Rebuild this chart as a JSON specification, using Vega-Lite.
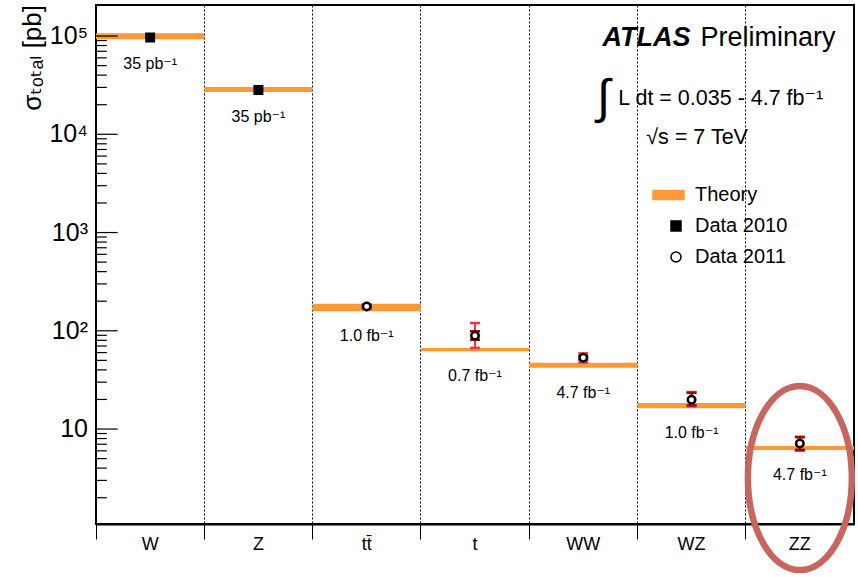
{
  "$schema": "https://vega.github.io/schema/vega-lite/v6.json",
  "width": 758,
  "height": 519,
  "autosize": {"type": "none"},
  "padding": {"left": 96, "top": 5, "right": 4, "bottom": 53},
  "background": "white",
  "config": {
    "view": {"stroke": "black", "strokeWidth": 2},
    "font": "Liberation Sans, DejaVu Sans, sans-serif",
    "legend": {
      "orient": "none",
      "legendX": 570,
      "legendY": 180,
      "title": null,
      "labelFontSize": 20,
      "labelColor": "black",
      "labelFont": "Liberation Sans, DejaVu Sans, sans-serif",
      "symbolSize": 100,
      "symbolStrokeWidth": 1.5,
      "symbolOpacity": 1,
      "rowPadding": 11,
      "labelOffset": 9,
      "padding": 0
    }
  },
  "datasets": {
    "minorticks": [
      {"v": 2}, {"v": 3}, {"v": 4}, {"v": 5}, {"v": 6}, {"v": 7}, {"v": 8}, {"v": 9},
      {"v": 20}, {"v": 30}, {"v": 40}, {"v": 50}, {"v": 60}, {"v": 70}, {"v": 80}, {"v": 90},
      {"v": 200}, {"v": 300}, {"v": 400}, {"v": 500}, {"v": 600}, {"v": 700}, {"v": 800}, {"v": 900},
      {"v": 2000}, {"v": 3000}, {"v": 4000}, {"v": 5000}, {"v": 6000}, {"v": 7000}, {"v": 8000}, {"v": 9000},
      {"v": 20000}, {"v": 30000}, {"v": 40000}, {"v": 50000}, {"v": 60000}, {"v": 70000}, {"v": 80000}, {"v": 90000}
    ],
    "majorticks": [
      {"m": 10}, {"m": 100}, {"m": 1000}, {"m": 10000}, {"m": 100000}
    ],
    "ylabels": [
      {"p": 10, "label": "10"}, {"p": 100, "label": "10²"}, {"p": 1000, "label": "10³"}, {"p": 10000, "label": "10⁴"}, {"p": 100000, "label": "10⁵"}
    ]
  },
  "data": {
    "values": [
      {"proc": "W", "theory_lo": 93000, "theory_hi": 107000, "value": 96500, "series": "Data 2010", "lumi": "35 pb⁻¹"},
      {"proc": "Z", "theory_lo": 26900, "theory_hi": 30300, "value": 28300, "series": "Data 2010", "lumi": "35 pb⁻¹"},
      {"proc": "tt̄", "theory_lo": 158, "theory_hi": 188, "value": 177, "series": "Data 2011", "stat_lo": 172, "stat_hi": 181, "tot_lo": 168, "tot_hi": 186, "lumi": "1.0 fb⁻¹"},
      {"proc": "t", "theory_lo": 62, "theory_hi": 67, "value": 89, "series": "Data 2011", "stat_lo": 81, "stat_hi": 99, "tot_lo": 67, "tot_hi": 120, "lumi": "0.7 fb⁻¹"},
      {"proc": "WW", "theory_lo": 42.1, "theory_hi": 47.3, "value": 53.1, "series": "Data 2011", "stat_lo": 51, "stat_hi": 55.5, "tot_lo": 47.5, "tot_hi": 58.9, "lumi": "4.7 fb⁻¹"},
      {"proc": "WZ", "theory_lo": 16.3, "theory_hi": 18.4, "value": 19.9, "series": "Data 2011", "stat_lo": 17.4, "stat_hi": 23.4, "tot_lo": 17.0, "tot_hi": 23.8, "lumi": "1.0 fb⁻¹"},
      {"proc": "ZZ", "theory_lo": 6.12, "theory_hi": 6.72, "value": 7.14, "series": "Data 2011", "stat_lo": 6.15, "stat_hi": 8.25, "tot_lo": 6.0, "tot_hi": 8.35, "lumi": "4.7 fb⁻¹"}
    ]
  },
  "layer": [
    {
      "mark": {"type": "bar", "opacity": 1},
      "encoding": {
        "x": {
          "field": "proc", "type": "nominal", "sort": null,
          "scale": {"domain": ["W", "Z", "tt̄", "t", "WW", "WZ", "ZZ"], "paddingInner": 0, "paddingOuter": 0},
          "axis": {
            "title": null, "bandPosition": 0, "grid": true, "gridDash": [2, 2], "gridColor": "black", "gridWidth": 1, "gridOpacity": 1,
            "tickSize": 15, "tickColor": "black", "tickWidth": 1, "domainColor": "black", "domainWidth": 2,
            "labelFontSize": 18, "labelColor": "black", "labelPadding": -4, "labelAngle": 0,
            "labelFont": "Liberation Sans, DejaVu Sans, sans-serif"
          }
        },
        "y": {
          "field": "theory_lo", "type": "quantitative",
          "scale": {"type": "log", "domain": [1.08, 207000], "nice": false, "zero": false},
          "axis": null
        },
        "y2": {"field": "theory_hi"},
        "fill": {
          "datum": "Theory", "type": "nominal",
          "scale": {"domain": ["Theory", "Data 2010", "Data 2011"], "range": ["#fd9a35", "black", "white"]}
        }
      }
    },
    {
      "transform": [{"filter": "datum.tot_lo != null"}],
      "mark": {"type": "rule", "color": "#f03a3a", "strokeWidth": 2},
      "encoding": {"x": {"field": "proc", "type": "nominal"}, "y": {"field": "tot_lo", "type": "quantitative", "axis": null}, "y2": {"field": "tot_hi"}}
    },
    {
      "transform": [{"filter": "datum.tot_lo != null"}],
      "mark": {"type": "tick", "color": "#f03a3a", "size": 10, "thickness": 2.5, "opacity": 1},
      "encoding": {"x": {"field": "proc", "type": "nominal"}, "y": {"field": "tot_lo", "type": "quantitative", "axis": null}}
    },
    {
      "transform": [{"filter": "datum.tot_lo != null"}],
      "mark": {"type": "tick", "color": "#f03a3a", "size": 10, "thickness": 2.5, "opacity": 1},
      "encoding": {"x": {"field": "proc", "type": "nominal"}, "y": {"field": "tot_hi", "type": "quantitative", "axis": null}}
    },
    {
      "transform": [{"filter": "datum.stat_lo != null"}],
      "mark": {"type": "rule", "color": "#9a0a12", "strokeWidth": 2},
      "encoding": {"x": {"field": "proc", "type": "nominal"}, "y": {"field": "stat_lo", "type": "quantitative", "axis": null}, "y2": {"field": "stat_hi"}}
    },
    {
      "transform": [{"filter": "datum.stat_lo != null"}],
      "mark": {"type": "tick", "color": "#9a0a12", "size": 10, "thickness": 2.5, "opacity": 1},
      "encoding": {"x": {"field": "proc", "type": "nominal"}, "y": {"field": "stat_lo", "type": "quantitative", "axis": null}}
    },
    {
      "transform": [{"filter": "datum.stat_lo != null"}],
      "mark": {"type": "tick", "color": "#9a0a12", "size": 10, "thickness": 2.5, "opacity": 1},
      "encoding": {"x": {"field": "proc", "type": "nominal"}, "y": {"field": "stat_hi", "type": "quantitative", "axis": null}}
    },
    {
      "mark": {"type": "point", "size": 56, "strokeWidth": 2.5, "opacity": 1},
      "encoding": {
        "x": {"field": "proc", "type": "nominal"},
        "y": {"field": "value", "type": "quantitative", "axis": null},
        "fill": {"field": "series", "type": "nominal", "scale": {"domain": ["Theory", "Data 2010", "Data 2011"], "range": ["#fd9a35", "black", "white"]}},
        "stroke": {"field": "series", "type": "nominal", "scale": {"domain": ["Theory", "Data 2010", "Data 2011"], "range": ["#fd9a35", "black", "black"]}},
        "shape": {"field": "series", "type": "nominal", "scale": {"domain": ["Theory", "Data 2010", "Data 2011"], "range": ["M-4.6,-0.9H1.6V0.9H-4.6Z", "M-1,-1H1V1H-1Z", "circle"]}}
      }
    },
    {
      "mark": {"type": "text", "fontSize": 16, "color": "black", "baseline": "middle", "align": "center", "dy": 25},
      "encoding": {
        "x": {"field": "proc", "type": "nominal"},
        "y": {"field": "theory_lo", "type": "quantitative", "axis": null},
        "text": {"field": "lumi"}
      }
    },
    {
      "data": {"name": "ylabels"},
      "mark": {"type": "text", "fontSize": 25, "color": "black", "align": "right", "baseline": "middle", "dx": -8},
      "encoding": {
        "x": {"datum": "W", "type": "nominal", "bandPosition": 0},
        "y": {"field": "p", "type": "quantitative", "axis": null},
        "text": {"field": "label"}
      }
    },
    {
      "data": {"values": [{"t": "σₜₒₜₐₗ [pb]"}]},
      "mark": {"type": "text", "fontSize": 26, "color": "black", "angle": 270, "align": "right", "baseline": "middle", "dy": -63},
      "encoding": {
        "x": {"datum": "W", "type": "nominal", "bandPosition": 0},
        "y": {"datum": 207000, "type": "quantitative", "axis": null},
        "text": {"field": "t"}
      }
    },
    {
      "data": {"values": [{"t": "ATLAS"}]},
      "mark": {"type": "text", "fontSize": 27, "fontStyle": "italic", "fontWeight": "bold", "color": "black", "align": "right", "baseline": "middle", "dx": -1, "dy": 2},
      "encoding": {"x": {"datum": "WZ", "type": "nominal"}, "y": {"datum": 100000, "type": "quantitative", "axis": null}, "text": {"field": "t"}}
    },
    {
      "data": {"values": [{"t": "Preliminary"}]},
      "mark": {"type": "text", "fontSize": 27, "color": "black", "align": "left", "baseline": "middle", "dx": 9, "dy": 2},
      "encoding": {"x": {"datum": "WZ", "type": "nominal"}, "y": {"datum": 100000, "type": "quantitative", "axis": null}, "text": {"field": "t"}}
    },
    {
      "data": {"values": [{"t": "∫"}]},
      "mark": {"type": "text", "fontSize": 48, "color": "black", "align": "center", "baseline": "middle", "dx": 20},
      "encoding": {"x": {"datum": "WW", "type": "nominal"}, "y": {"datum": 23000, "type": "quantitative", "axis": null}, "text": {"field": "t"}}
    },
    {
      "data": {"values": [{"t": "L dt = 0.035 - 4.7 fb⁻¹"}]},
      "mark": {"type": "text", "fontSize": 21.5, "color": "black", "align": "left", "baseline": "middle", "dx": 35},
      "encoding": {"x": {"datum": "WW", "type": "nominal"}, "y": {"datum": 23000, "type": "quantitative", "axis": null}, "text": {"field": "t"}}
    },
    {
      "data": {"values": [{"t": "√s = 7 TeV"}]},
      "mark": {"type": "text", "fontSize": 21.5, "color": "black", "align": "left", "baseline": "middle", "dx": 63},
      "encoding": {"x": {"datum": "WW", "type": "nominal"}, "y": {"datum": 9170, "type": "quantitative", "axis": null}, "text": {"field": "t"}}
    },
    {
      "data": {"values": [{"t": "ZZ"}]},
      "mark": {"type": "point", "shape": "M-0.565,0A0.565,1 0 1,0 0.565,0A0.565,1 0 1,0 -0.565,0Z", "size": 33856, "filled": false, "stroke": "#c8655d", "strokeWidth": 6.5, "opacity": 1},
      "encoding": {"x": {"datum": "ZZ", "type": "nominal"}, "y": {"datum": 3.17, "type": "quantitative", "axis": null}}
    },
    {
      "data": {"name": "minorticks"},
      "mark": {"type": "rule", "color": "black", "strokeWidth": 1.2},
      "encoding": {
        "x": {"datum": "W", "type": "nominal", "bandPosition": 0},
        "x2": {"datum": "W", "bandPosition": 0.1},
        "y": {"field": "v", "type": "quantitative", "axis": null}
      }
    },
    {
      "data": {"name": "majorticks"},
      "mark": {"type": "rule", "color": "black", "strokeWidth": 1.2},
      "encoding": {
        "x": {"datum": "W", "type": "nominal", "bandPosition": 0},
        "x2": {"datum": "W", "bandPosition": 0.2},
        "y": {"field": "m", "type": "quantitative", "axis": null}
      }
    }
  ]
}
